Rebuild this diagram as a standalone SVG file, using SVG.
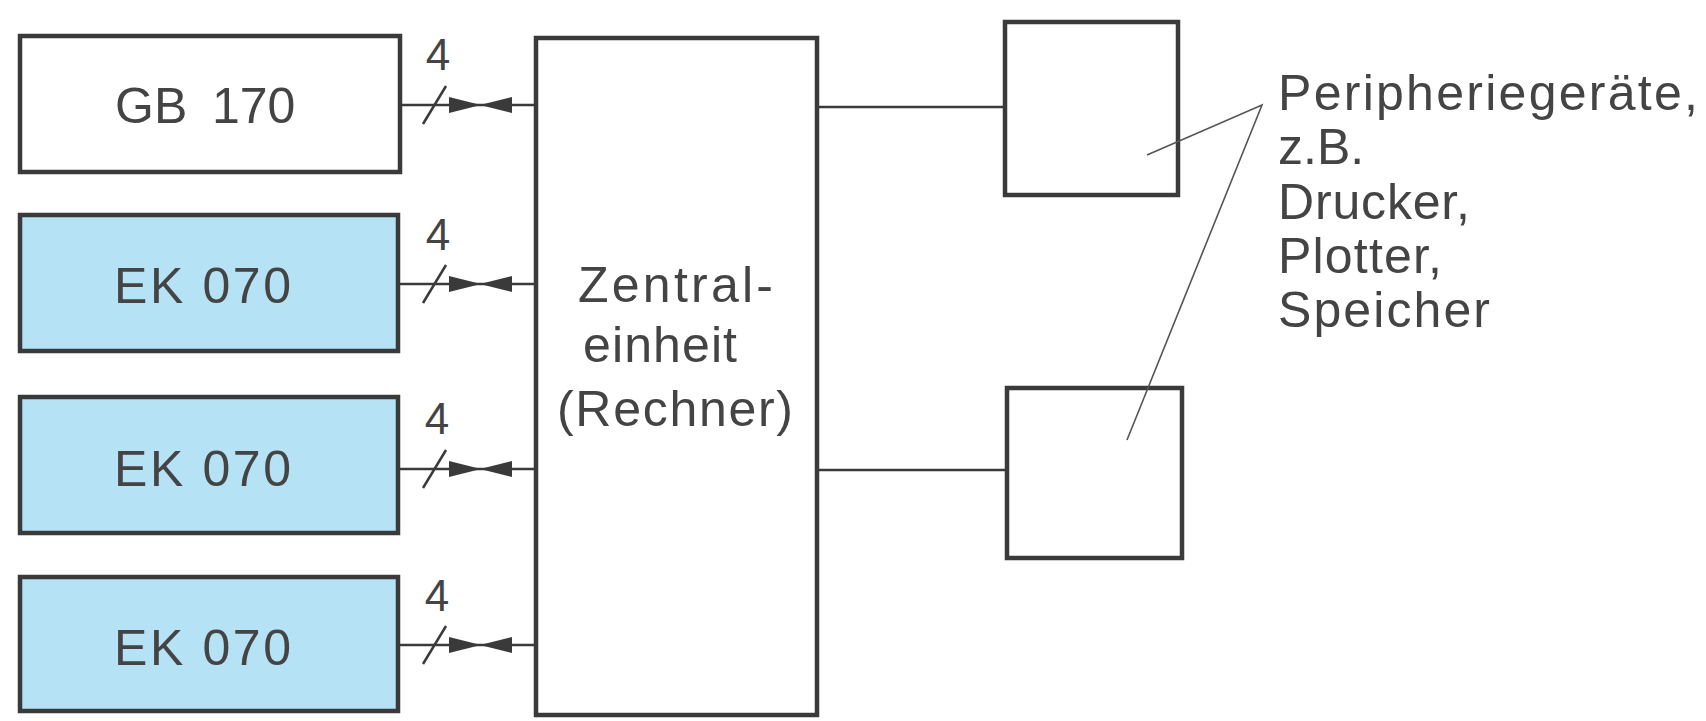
<svg xmlns="http://www.w3.org/2000/svg" xmlns:xlink="http://www.w3.org/1999/xlink" width="1706" height="721" viewBox="0 0 1706 721">
<style>
  .box{fill:#ffffff;stroke:#3a3a3a;stroke-width:4.5}
  .blue{fill:#b5e2f5;stroke:#3a3a3a;stroke-width:4.5}
  .lbl{font-family:"Liberation Sans",Arial,sans-serif;font-size:50px;fill:#444444}
  .num{font-family:"Liberation Sans",Arial,sans-serif;font-size:44px;fill:#444444;text-anchor:middle}
  .conn{stroke:#3a3a3a;stroke-width:2.5;fill:none}
  .slash{stroke:#3a3a3a;stroke-width:2.5;fill:none}
  .lead{stroke:#555555;stroke-width:1.6;fill:none}
  .tie{fill:#3a3a3a}
</style>
<defs>
  <path id="bowtie" class="tie" d="M0,-8 L32,0 L0,8 Z M63,-8 L31,0 L63,8 Z"/>
</defs>
<rect width="1706" height="721" fill="#ffffff"/>

<g id="gb170">
  <rect class="box" x="20" y="36" width="380" height="136"/>
  <text class="lbl" font-size="52" x="115" y="123">GB</text>
  <text class="lbl" x="212" y="123">170</text>
</g>
<g id="ek070-1">
  <rect class="blue" x="20" y="215" width="378" height="136"/>
  <text class="lbl" x="114" y="303" textLength="177" lengthAdjust="spacing">EK 070</text>
</g>
<g id="ek070-2">
  <rect class="blue" x="20" y="397" width="378" height="136"/>
  <text class="lbl" x="114" y="486" textLength="177" lengthAdjust="spacing">EK 070</text>
</g>
<g id="ek070-3">
  <rect class="blue" x="20" y="577" width="378" height="134"/>
  <text class="lbl" x="114" y="665" textLength="177" lengthAdjust="spacing">EK 070</text>
</g>

<g id="zentraleinheit">
  <rect class="box" x="536" y="38" width="281" height="677"/>
  <text class="lbl" font-size="48" x="578" y="302" textLength="195" lengthAdjust="spacing">Zentral-</text>
  <text class="lbl" font-size="48" x="583" y="362" textLength="154" lengthAdjust="spacing">einheit</text>
  <text class="lbl" font-size="48" x="557" y="426" textLength="236" lengthAdjust="spacing">(Rechner)</text>
</g>

<g id="peripherie-1">
  <rect class="box" x="1005" y="22" width="173" height="173"/>
</g>
<g id="peripherie-2">
  <rect class="box" x="1007" y="388" width="175" height="170"/>
</g>

<g id="peripherie-label">
  <text class="lbl" font-size="48" x="1278" y="110" textLength="420" lengthAdjust="spacing">Peripheriegeräte,</text>
  <text class="lbl" font-size="48" x="1278" y="164">z.B.</text>
  <text class="lbl" font-size="48" x="1278" y="219" textLength="192" lengthAdjust="spacing">Drucker,</text>
  <text class="lbl" font-size="48" x="1278" y="273" textLength="164" lengthAdjust="spacing">Plotter,</text>
  <text class="lbl" font-size="48" x="1278" y="327" textLength="212" lengthAdjust="spacing">Speicher</text>
</g>

<g id="connectors">
  <line class="conn" x1="402" y1="105" x2="534" y2="105"/>
  <line class="conn" x1="400" y1="284" x2="534" y2="284"/>
  <line class="conn" x1="400" y1="469" x2="534" y2="469"/>
  <line class="conn" x1="400" y1="645" x2="534" y2="645"/>
  <line class="slash" x1="423" y1="124" x2="446" y2="86"/>
  <line class="slash" x1="423" y1="303" x2="446" y2="265"/>
  <line class="slash" x1="423" y1="488" x2="446" y2="450"/>
  <line class="slash" x1="423" y1="664" x2="446" y2="626"/>
  <use xlink:href="#bowtie" x="449" y="105"/>
  <use xlink:href="#bowtie" x="449" y="284"/>
  <use xlink:href="#bowtie" x="449" y="469"/>
  <use xlink:href="#bowtie" x="449" y="645"/>
  <text class="num" x="438" y="70">4</text>
  <text class="num" x="438" y="250">4</text>
  <text class="num" x="437" y="434">4</text>
  <text class="num" x="437" y="611">4</text>
  <line class="conn" x1="819" y1="107" x2="1003" y2="107"/>
  <line class="conn" x1="819" y1="470" x2="1005" y2="470"/>
  <polyline class="lead" points="1147,155 1262,105 1127,440"/>
</g>
</svg>
